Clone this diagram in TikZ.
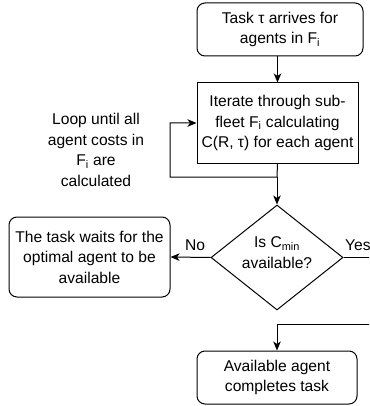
\documentclass[tikz,border=0pt]{standalone}
\usepackage{fontspec}
\setmainfont{Liberation Sans}
\usetikzlibrary{arrows.meta,shapes.geometric}
\begin{document}
\begin{tikzpicture}[x=1pt,y=-1pt,
  every node/.style={font=\fontsize{15.6}{20.5}\selectfont, align=center, inner sep=0pt, text=black},
  rbox/.style={draw=black, line width=1pt, rounded corners=8pt},
  sbox/.style={draw=black, line width=1pt},
  dbox/.style={draw=black, line width=1pt, diamond, minimum width=132pt, minimum height=105pt},
  lbl/.style={},
  conn/.style={draw=black, line width=1pt},
  arr/.style={conn, -{Stealth[length=9pt,width=7.5pt,inset=2.5pt]}}]
\useasboundingbox (0,0) rectangle (369,406);
\clip (0,0) rectangle (369,406);
\fill[white] (0,0) rectangle (369,406);

\node[rbox, minimum width=166pt, minimum height=53pt] (task) at (280,29.5) {Task τ arrives for\\agents in F\textsubscript{i}};
\node[sbox, minimum width=161pt, minimum height=80pt] (iter) at (277.5,123) {Iterate through sub-\\fleet F\textsubscript{i} calculating\\C(R, τ) for each agent};
\node[lbl] (loop) at (96,150) {Loop until all\\agent costs in\\F\textsubscript{i} are\\calculated};
\node[dbox] (dec) at (277,257.5) {\smash{\makebox[0pt]{\begin{tabular}{@{}c@{}}Is C\textsubscript{min}\\available?\end{tabular}}}};
\node[rbox, minimum width=161pt, minimum height=80pt] (wait) at (89.5,257) {The task waits for the\\optimal agent to be\\available};
\node[rbox, minimum width=160pt, minimum height=53pt] (done) at (277,377.5) {Available agent\\completes task};
\node[lbl] (no) at (195,245) {No};
\node[lbl, anchor=west] (yes) at (345,245) {Yes};

\coordinate (j) at (277,177);
\coordinate (lc) at (170,177);
\coordinate (ye) at (385,257.5);
\coordinate (yr) at (385,324);

\draw[arr] (iter.north |- task.south) -- (iter.north);
\draw[arr] (iter.south) -- (j) -- (lc) |- (iter.west);
\draw[arr] (j) -- (dec.north);
\draw[arr] (dec.west) -- (wait.east);
\draw[conn] (dec.east) -- (ye);
\draw[arr] (yr) -| (done.north);
\end{tikzpicture}
\end{document}
